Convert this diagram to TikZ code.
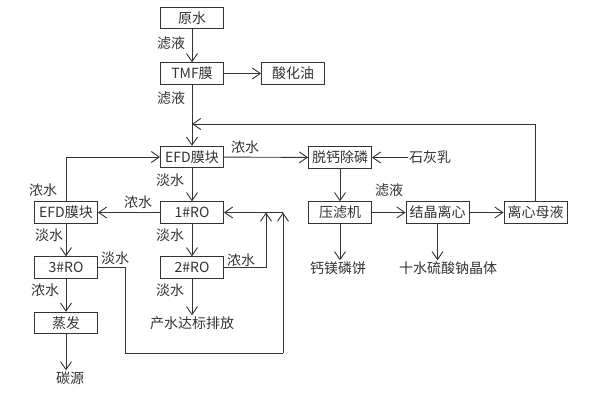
\documentclass[tikz,border=0pt]{standalone}
\usepackage{fontspec}
\setmainfont{Noto Sans CJK SC}
\usetikzlibrary{arrows.meta}
\definecolor{ink}{HTML}{333333}
\tikzset{
  box/.style={draw=ink, line width=0.9pt, minimum width=63pt, minimum height=21.5pt, inner sep=0pt, text=ink, font=\fontsize{14}{15}\selectfont},
  txt/.style={inner sep=1pt, text=ink, font=\fontsize{14}{15}\selectfont},
  lbl/.style={inner sep=0pt, text=ink, font=\fontsize{14}{15}\selectfont},
  flow/.style={draw=ink, line width=0.9pt, -{Straight Barb[length=8pt,width=11pt,line width=0.9pt]}},
  pipe/.style={draw=ink, line width=0.9pt}
}
\begin{document}
\begin{tikzpicture}[x=1pt,y=-1pt]
\useasboundingbox[fill=white] (0,0) rectangle (592,401);
% boxes
\node[box] (raw) at (192,18) {原水};
\node[box] (tmf) at (192,73.5) {TMF膜};
\node[box] (acid) at (293,73.5) {酸化油};
\node[box] (efd1) at (192,157) {EFD膜块};
\node[box] (deca) at (340,157.5) {脱钙除磷};
\node[box] (press) at (340,212.5) {压滤机};
\node[box] (cryst) at (437.5,212.5) {结晶离心};
\node[box] (mother) at (535.5,212.5) {离心母液};
\node[box] (efd2) at (66,212.5) {EFD膜块};
\node[box] (ro1) at (192,212.5) {1\#RO};
\node[box] (ro2) at (192,267.5) {2\#RO};
\node[box] (ro3) at (66,267.5) {3\#RO};
\node[box] (evap) at (66,323) {蒸发};
% plain texts
\node[txt] (lime) at (430,157.5) {石灰乳};
\node[txt] (cake) at (338,268) {钙镁磷饼};
\node[txt] (sodium) at (448,268) {十水硫酸钠晶体};
\node[txt] (discharge) at (192,323) {产水达标排放};
\node[txt] (carbon) at (70,378) {碳源};
% junction coordinates
\coordinate (j1) at (192,124);
\coordinate (j2) at (266,212.5);
\coordinate (j3) at (283,212.5);
\coordinate (b2) at (266,267.5);
\coordinate (b3a) at (125,267.5);
\coordinate (b3b) at (125,353);
\coordinate (b3c) at (283,353);
% connectors
\draw[flow] (raw) -- (tmf);
\draw[flow] (tmf) -- (acid);
\draw[flow] (tmf) -- (efd1);
\draw[flow] (mother.north) |- (j1);
\draw[flow] (efd1) -- (deca);
\draw[flow] (lime.west) -- (deca.east);
\draw[flow] (deca) -- (press);
\draw[flow] (press) -- (cryst);
\draw[flow] (cryst) -- (mother);
\draw[flow] (press.south) -- (press.south |- cake.north);
\draw[flow] (cryst.south) -- (cryst.south |- sodium.north);
\draw[flow] (efd1) -- (ro1);
\draw[flow] (ro1) -- (efd2);
\draw[flow] (efd2.north) |- (efd1.west);
\draw[flow] (efd2) -- (ro3);
\draw[flow] (ro1) -- (ro2);
\draw[pipe] (ro2.east) -- (b2);
\draw[flow] (b2) -- (j2);
\draw[pipe] (ro3.east) -- (b3a) -- (b3b) -- (b3c);
\draw[flow] (b3c) -- (j3);
\draw[flow] (j3) -- (ro1.east);
\draw[flow] (ro2) -- (discharge);
\draw[flow] (ro3) -- (evap);
\draw[flow] (evap.south) -- (evap.south |- carbon.north);
% labels
\node[lbl] (l1) at (171,43) {滤液};
\node[lbl] (l2) at (171,98) {滤液};
\node[lbl] (l3) at (245,147) {浓水};
\node[lbl] (l4) at (389,190) {滤液};
\node[lbl] (l5) at (170,180) {淡水};
\node[lbl] (l6) at (138,202) {浓水};
\node[lbl] (l7) at (43,190) {浓水};
\node[lbl] (l8) at (49,235) {淡水};
\node[lbl] (l9) at (170,235) {淡水};
\node[lbl] (l10) at (241,260) {浓水};
\node[lbl] (l11) at (115,258) {淡水};
\node[lbl] (l12) at (170,290) {淡水};
\node[lbl] (l13) at (45,290) {浓水};
\end{tikzpicture}
\end{document}
